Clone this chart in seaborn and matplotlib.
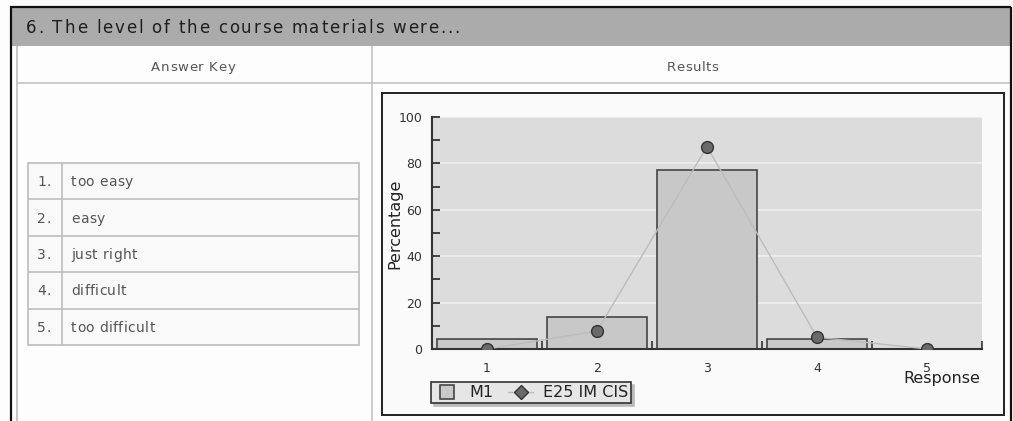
import numpy as np
import pandas as pd
import matplotlib
matplotlib.use("Agg")
import matplotlib.pyplot as plt
from matplotlib.patches import Rectangle
from matplotlib.lines import Line2D
from matplotlib import font_manager
from matplotlib.ft2font import FT2Font
import seaborn as sns

# ---- content ----
title = "6. The level of the course materials were..."
col_headers = ["Answer Key", "Results"]
answer_nums = ["1.", "2.", "3.", "4.", "5."]
answer_labels = ["too easy", "easy", "just right", "difficult", "too difficult"]
responses = ["1", "2", "3", "4", "5"]
m1_pct = [4.5, 13.6, 77.3, 4.5, 0.0]
e25_pct = [0.0, 7.7, 87.2, 5.1, 0.0]
series_names = ["M1", "E25 IM CIS"]
x_label = "Response"
y_label = "Percentage"
y_ticks = [0, 20, 40, 60, 80, 100]

W, H, DPI = 1013, 421, 100

sns.set_theme(style="white")
plt.rcParams["font.family"] = ["DejaVu Sans"]

fig = plt.figure(figsize=(W / DPI, H / DPI), dpi=DPI)
fig.patch.set_facecolor("#fdfdfd")


def fx(px):
    return px / W


def fy(py):
    return 1 - py / H


_font_path = font_manager.findfont(font_manager.FontProperties(family="DejaVu Sans"))


def advances(s, size):
    f = FT2Font(_font_path)
    f.set_size(size, DPI)
    return [f.load_char(ord(c)).linearHoriAdvance / 65536.0 for c in s]


def spaced_text(s, baseline, size, color, x0=None, x1=None, spacing=None, cx=None):
    """Letter-spaced text placed in pixel coordinates."""
    adv = advances(s, size)
    if spacing is None:
        spacing = (x1 - x0 - sum(adv)) / (len(s) - 1)
    total = sum(adv) + spacing * (len(s) - 1)
    if cx is not None:
        x0 = cx - total / 2
    pen = x0
    for c, a in zip(s, adv):
        if c != " ":
            fig.text(fx(pen + a / 2), fy(baseline), c, ha="center", va="baseline",
                     fontsize=size, color=color, zorder=5)
        pen += a + spacing


def hline(y, x0, x1, color, lw=1.0, z=1):
    fig.add_artist(Line2D([fx(x0), fx(x1)], [fy(y), fy(y)], transform=fig.transFigure,
                          color=color, lw=lw, zorder=z, solid_capstyle="butt"))


def vline(x, y0, y1, color, lw=1.0, z=1):
    fig.add_artist(Line2D([fx(x), fx(x)], [fy(y0), fy(y1)], transform=fig.transFigure,
                          color=color, lw=lw, zorder=z, solid_capstyle="butt"))


# ---- page frame ----
fig.add_artist(Rectangle((fx(11), fy(45.5)), (1010 - 11) / W, 38 / H, transform=fig.transFigure,
                         facecolor="#ababab", edgecolor="none", zorder=-2))
vline(10.5, 7, 421, "#111111", 1.6, 2)
vline(1010.5, 7, 421, "#111111", 1.6, 2)
hline(7, 10, 1011, "#111111", 1.6, 2)
vline(16.5, 46, 421, "#c6c6c6", 1.5, 1)
hline(82.5, 16, 1010, "#c4c4c4", 1.2, 1)
vline(371.5, 46, 421, "#c4c4c4", 1.2, 1)

spaced_text(title, 33, 12, "#1e1e1e", x0=26, x1=460)
spaced_text(col_headers[0], 71, 9.5, "#555555", x0=151, x1=235)
spaced_text(col_headers[1], 71, 9.5, "#555555", x0=667, x1=718)

# ---- answer key table ----
t_left, t_right, t_top, t_bottom, t_div = 28, 359, 163, 345, 62
fig.add_artist(Rectangle((fx(t_left), fy(t_bottom)), (t_right - t_left) / W, (t_bottom - t_top) / H,
                         transform=fig.transFigure, facecolor="#f9f9f9", edgecolor="#bdbdbd",
                         lw=1.2, zorder=0))
row_h = (t_bottom - t_top) / len(answer_labels)
for i, (num, lab) in enumerate(zip(answer_nums, answer_labels)):
    y_top = t_top + i * row_h
    if i > 0:
        hline(y_top, t_left, t_right, "#bdbdbd", 1.2)
    base = y_top + row_h / 2 + 5
    spaced_text(num, base, 10, "#555555", x0=37, spacing=0.6)
    spaced_text(lab, base, 10, "#555555", x0=71, spacing=0.4)
vline(t_div, t_top, t_bottom, "#bdbdbd", 1.2)

# ---- chart panel ----
fig.add_artist(Rectangle((fx(382), fy(415)), (1004 - 382) / W, (415 - 93) / H,
                         transform=fig.transFigure, facecolor="#fafafa", edgecolor="#222222",
                         lw=1.4, zorder=-1))

df = pd.DataFrame({"Response": responses, "M1": m1_pct, "E25": e25_pct})

ax = fig.add_axes([fx(432), fy(349), 550 / W, 232 / H])
sns.barplot(data=df, x="Response", y="M1", width=0.91, color="#c8c8c8", saturation=1,
            edgecolor="#454545", linewidth=1.2, ax=ax, zorder=2)
sns.pointplot(data=df, x="Response", y="E25", color="#bcbcbc", markers="o", linestyles="-",
              errorbar=None, ax=ax, linewidth=1.0, markersize=8.5,
              markerfacecolor="#6a6a6a", markeredgecolor="#333333", markeredgewidth=1.0, zorder=3)

ax.set_xlim(-0.5, 4.5)
ax.set_ylim(0, 100)
ax.set_facecolor("#dcdcdc")
ax.set_yticks(y_ticks)
ax.set_yticks(np.arange(10, 100, 20), minor=True)
ax.set_xticks(np.arange(len(responses)))
ax.set_xticklabels(responses)
ax.set_xticks(np.arange(0.5, len(responses), 1), minor=True)
ax.tick_params(axis="x", which="major", length=0, pad=9, labelsize=9, labelcolor="#333333")
ax.tick_params(axis="x", which="minor", direction="in", length=6, width=1.2, color="#333333", bottom=True)
ax.tick_params(axis="y", which="both", direction="in", length=6, width=1.3, color="#333333", left=True)
ax.tick_params(axis="y", which="major", pad=7, labelsize=9, labelcolor="#333333")
ax.yaxis.grid(True, color="#f2f2f2", lw=1.1)
ax.xaxis.grid(False)
ax.set_axisbelow(True)
for side in ("top", "right"):
    ax.spines[side].set_visible(False)
for side in ("left", "bottom"):
    ax.spines[side].set_color("#333333")
    ax.spines[side].set_linewidth(1.5)

ax.set_xlabel(x_label, fontsize=11.5, color="#222222")
ax.xaxis.set_label_coords(0.927, -0.095)
ax.set_ylabel(y_label, fontsize=11.5, color="#222222")
ax.yaxis.set_label_coords(-0.053, 0.54)

handles = [
    Line2D([], [], ls="none", marker="s", markersize=10, markerfacecolor="#c8c8c8",
           markeredgecolor="#454545", markeredgewidth=1.2),
    Line2D([], [], color="#bcbcbc", lw=1.0, marker="D", markersize=7,
           markerfacecolor="#6a6a6a", markeredgecolor="#333333"),
]
leg = fig.legend(handles, series_names, loc="upper left", bbox_to_anchor=(fx(431), fy(382)),
                 ncol=2, frameon=True, fancybox=False, shadow={"color": "#bbbbbb", "alpha": 1.0},
                 fontsize=11.5, handlelength=1.6, handletextpad=0.6, columnspacing=0.9,
                 borderpad=0.2, borderaxespad=0)
leg.get_frame().set_edgecolor("#333333")
leg.get_frame().set_facecolor("#e6e6e6")
leg.get_frame().set_linewidth(1.2)
for t in leg.get_texts():
    t.set_color("#222222")

fig.savefig("out.png", dpi=DPI, facecolor=fig.get_facecolor())
